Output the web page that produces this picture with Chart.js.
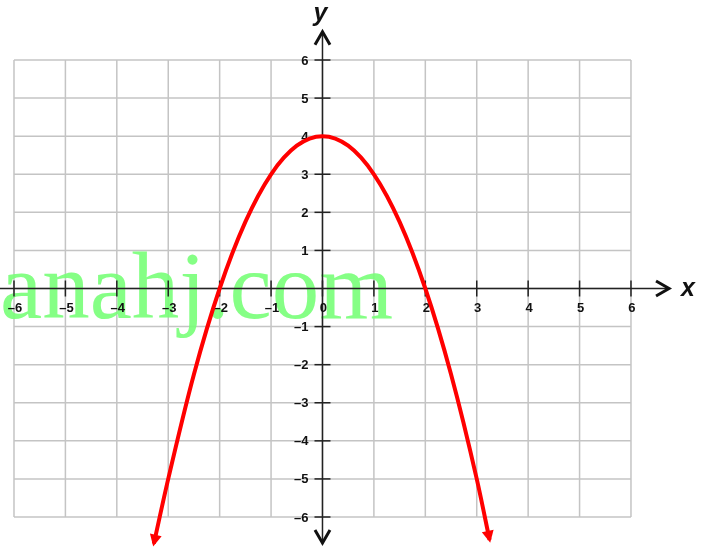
<!DOCTYPE html>
<html>
<head>
<meta charset="utf-8">
<script src="https://cdn.jsdelivr.net/npm/chart.js@4.4.0/dist/chart.umd.min.js"></script>
<style>
  html, body { margin: 0; padding: 0; background: #fff; }
  #cadre { width: 706px; height: 548px; position: relative; }
</style>
</head>
<body>
<div id="cadre"><canvas id="graphe"></canvas></div>
<script>
// === Données ===
const valeursX = [-3.28, -3, -2.5, -2, -1.5, -1, -0.5, 0, 0.5, 1, 1.5, 2, 2.5, 3, 3.25];
const valeursY = [-6.7, -5, -2.25, 0, 1.75, 3, 3.75, 4, 3.75, 3, 1.75, 0, -2.25, -5, -6.6];
const graduationsX = [-6, -5, -4, -3, -2, -1, 0, 1, 2, 3, 4, 5, 6];
const graduationsY = [-6, -5, -4, -3, -2, -1, 1, 2, 3, 4, 5, 6];
const filigrane = "anahj.com";

const points = valeursX.map((x, i) => ({ x: x, y: valeursY[i] }));

// === Petites fonctions de dessin ===
function libelle(n) {
  return n < 0 ? "\u2013" + Math.abs(n) : String(n);
}

function pointeOuverte(c, x, y, angle) {
  c.save();
  c.translate(x, y);
  c.rotate(angle);
  c.beginPath();
  c.moveTo(-13, -7.5);
  c.lineTo(0, 0);
  c.lineTo(-13, 7.5);
  c.lineWidth = 3;
  c.lineJoin = "miter";
  c.strokeStyle = "#111";
  c.stroke();
  c.restore();
}

function pointePleine(c, x, y, angle) {
  c.save();
  c.translate(x, y);
  c.rotate(angle);
  c.beginPath();
  c.moveTo(3, 0);
  c.lineTo(-9, -6);
  c.lineTo(-9, 6);
  c.closePath();
  c.fillStyle = "#ff0000";
  c.fill();
  c.restore();
}

// === Plugin : grille, axes, filigrane ===
const repere = {
  id: "repere",
  beforeDatasetsDraw(chart) {
    const c = chart.ctx;
    const sx = chart.scales.x, sy = chart.scales.y;
    const gauche = sx.getPixelForValue(-6), droite = sx.getPixelForValue(6);
    const haut = sy.getPixelForValue(6), bas = sy.getPixelForValue(-6);
    const x0 = sx.getPixelForValue(0), y0 = sy.getPixelForValue(0);

    // grille
    c.save();
    c.strokeStyle = "#c4c4c4";
    c.lineWidth = 1.5;
    graduationsX.forEach(v => {
      const px = sx.getPixelForValue(v);
      c.beginPath(); c.moveTo(px, haut); c.lineTo(px, bas); c.stroke();
    });
    [-6, -5, -4, -3, -2, -1, 0, 1, 2, 3, 4, 5, 6].forEach(v => {
      const py = sy.getPixelForValue(v);
      c.beginPath(); c.moveTo(gauche, py); c.lineTo(droite, py); c.stroke();
    });
    c.restore();

    // filigrane
    c.save();
    c.font = "95px 'Liberation Serif', serif";
    c.fillStyle = "rgba(120, 255, 120, 0.9)";
    c.textBaseline = "alphabetic";
    c.textAlign = "left";
    c.fillText(filigrane, 0, 318);
    c.restore();

    // axes
    c.save();
    c.strokeStyle = "#222";
    c.lineWidth = 1.5;
    c.beginPath(); c.moveTo(0, y0); c.lineTo(sx.getPixelForValue(6.74), y0); c.stroke();
    c.beginPath(); c.moveTo(x0, sy.getPixelForValue(6.74)); c.lineTo(x0, sy.getPixelForValue(-6.68)); c.stroke();
    pointeOuverte(c, sx.getPixelForValue(6.74), y0, 0);
    pointeOuverte(c, x0, sy.getPixelForValue(6.74), -Math.PI / 2);
    pointeOuverte(c, x0, sy.getPixelForValue(-6.68), Math.PI / 2);

    // graduations
    c.lineWidth = 1.5;
    graduationsX.forEach(v => {
      const px = sx.getPixelForValue(v);
      c.beginPath(); c.moveTo(px, y0 - 8); c.lineTo(px, y0 + 8); c.stroke();
    });
    graduationsY.forEach(v => {
      const py = sy.getPixelForValue(v);
      c.beginPath(); c.moveTo(x0 - 8, py); c.lineTo(x0 + 8, py); c.stroke();
    });

    c.fillStyle = "#111";
    c.font = "bold 13px 'Liberation Sans', Arial, sans-serif";
    c.textAlign = "center";
    c.textBaseline = "middle";
    graduationsX.forEach(v => {
      c.fillText(libelle(v), sx.getPixelForValue(v) + 1, y0 + 20);
    });
    c.textAlign = "right";
    graduationsY.forEach(v => {
      c.fillText(libelle(v), x0 - 14, sy.getPixelForValue(v) + 1);
    });

    // noms des axes
    c.font = "italic bold 25px 'Liberation Sans', Arial, sans-serif";
    c.textAlign = "center";
    c.fillText("y", x0 - 2, 14);
    c.fillText("x", 688, y0 + 1);
    c.restore();
  },
  afterDatasetsDraw(chart) {
    const c = chart.ctx;
    const sx = chart.scales.x, sy = chart.scales.y;
    const n = points.length;
    const bouts = [[points[1], points[0]], [points[n - 2], points[n - 1]]];
    bouts.forEach(([a, b]) => {
      const ax = sx.getPixelForValue(a.x), ay = sy.getPixelForValue(a.y);
      const bx = sx.getPixelForValue(b.x), by = sy.getPixelForValue(b.y);
      pointePleine(c, bx, by, Math.atan2(by - ay, bx - ax));
    });
  }
};

// === Graphique Chart.js ===
const ctx = document.getElementById("graphe").getContext("2d");
const chart = new Chart(ctx, {
  type: "scatter",
  data: {
    datasets: [{
      data: points,
      showLine: true,
      borderColor: "#ff0000",
      borderWidth: 4,
      pointRadius: 0,
      cubicInterpolationMode: "monotone",
      fill: false
    }]
  },
  options: {
    responsive: true,
    maintainAspectRatio: false,
    animation: false,
    layout: { padding: 0 },
    plugins: { legend: { display: false }, tooltip: { enabled: false } },
    scales: {
      x: { type: "linear", min: -6.272, max: 7.459, display: false },
      y: { type: "linear", min: -6.814, max: 7.576, display: false }
    }
  },
  plugins: [repere]
});
</script>
</body>
</html>
